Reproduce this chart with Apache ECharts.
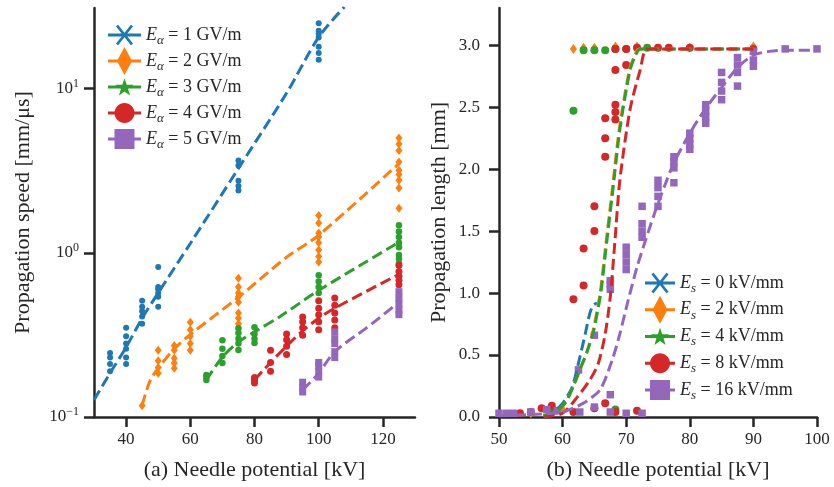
<!DOCTYPE html>
<html>
<head>
<meta charset="utf-8">
<script src="https://cdn.jsdelivr.net/npm/echarts@6/dist/echarts.min.js"></script>
<style>
  html, body { margin: 0; padding: 0; background: #fff; }
  #chart { width: 834px; height: 487px; }
</style>
</head>
<body>
<div id="chart"></div>
<script>
// ---------- (a) propagation speed [mm/us] for fields E_alpha = 1..5 GV/m ----------
const speedFields = [1, 2, 3, 4, 5];

const speedVolt1 = [35, 40, 45, 50, 75, 100];
const speedMeas1 = [
  [0.19, 0.21, 0.23, 0.245],
  [0.21, 0.23, 0.26, 0.28, 0.31, 0.35],
  [0.37, 0.41, 0.44, 0.47, 0.51],
  [0.47, 0.54, 0.57, 0.60, 0.62, 0.82],
  [2.4, 2.55, 2.75, 3.4, 3.65],
  [15, 16.5, 18, 20.5, 21.5, 22.5, 25]
];
const speedFitX1 = [30, 35, 40, 45, 50, 60, 75, 90, 100, 108];
const speedFitY1 = [0.127, 0.185, 0.266, 0.40, 0.57, 1.14, 3.27, 9.4, 20.6, 31.5];

const speedVolt2 = [45, 50, 55, 60, 75, 100, 125];
const speedMeas2 = [
  [0.117],
  [0.185, 0.20, 0.22, 0.255],
  [0.198, 0.213, 0.228, 0.255, 0.273],
  [0.255, 0.28, 0.31, 0.34, 0.378],
  [0.37, 0.40, 0.43, 0.50, 0.54, 0.57, 0.62, 0.70],
  [0.88, 0.95, 1.04, 1.15, 1.25, 1.32, 1.52, 1.69],
  [1.87, 2.48, 2.77, 3.0, 3.19, 3.58, 4.2, 4.6, 5.0]
];
const speedFitX2 = [45, 47.5, 50, 55, 60, 75, 90, 100, 125];
const speedFitY2 = [0.118, 0.167, 0.198, 0.26, 0.318, 0.536, 0.94, 1.28, 3.5];

const speedVolt3 = [65, 70, 75, 80, 100, 125];
const speedMeas3 = [
  [0.168, 0.175, 0.18],
  [0.213, 0.235, 0.26, 0.293],
  [0.256, 0.28, 0.30, 0.325, 0.347],
  [0.282, 0.30, 0.32, 0.352],
  [0.57, 0.62, 0.67, 0.73],
  [0.86, 0.92, 0.97, 1.08, 1.15, 1.25, 1.35, 1.47]
];
const speedFitX3 = [65, 70, 75, 80, 88, 100, 125];
const speedFitY3 = [0.168, 0.232, 0.286, 0.33, 0.41, 0.59, 1.16];

const speedVolt4 = [80, 85, 90, 95, 100, 105, 125];
const speedMeas4 = [
  [0.161, 0.168, 0.174],
  [0.19, 0.215, 0.255],
  [0.24, 0.27, 0.295, 0.32],
  [0.315, 0.35, 0.38, 0.406],
  [0.34, 0.38, 0.42, 0.46, 0.51],
  [0.35, 0.39, 0.43, 0.48, 0.53],
  [0.64, 0.68, 0.72, 0.77, 0.84]
];
const speedFitX4 = [80, 85, 90, 95, 100, 105, 125];
const speedFitY4 = [0.168, 0.215, 0.27, 0.335, 0.40, 0.46, 0.74];

const speedVolt5 = [95, 100, 105, 125];
const speedMeas5 = [
  [0.142, 0.152, 0.163],
  [0.175, 0.19, 0.205, 0.215],
  [0.23, 0.25, 0.28, 0.30, 0.33],
  [0.42, 0.45, 0.49, 0.53, 0.58]
];
const speedFitX5 = [95, 100, 105, 115, 125];
const speedFitY5 = [0.146, 0.185, 0.25, 0.35, 0.50];

// ---------- (b) propagation length [mm] for fields E_s = 0..16 kV/mm ----------
const lengthFields = [0, 2, 4, 8, 16];

const lengthPoints0 = [];
const lengthPoints2 = [
  [55, 0.03], [58.3, 0.05], [60, 0.06], [61.7, 2.97], [63.3, 2.98], [65, 2.98],
  [68.3, 2.99], [71.7, 2.99], [80, 2.98], [90, 2.99]
];
const lengthPoints4 = [
  [58.3, 0.04], [61.7, 2.47], [63.3, 2.96], [65, 2.96], [66.7, 2.96], [68.3, 2.97],
  [70, 2.97], [73.3, 2.98], [68.3, 0.06]
];
const lengthPoints8 = [
  [53.3, 0.03], [55, 0.04], [56.7, 0.07], [58.3, 0.09], [61.7, 0.04], [61.7, 0.95],
  [63.3, 1.06], [63.3, 1.36], [65, 0.07], [65, 1.50], [65, 1.70], [66.7, 0.11],
  [66.7, 2.10], [66.7, 2.25], [66.7, 2.41], [68.3, 0.04], [68.3, 2.40], [68.3, 2.46],
  [68.3, 2.52], [68.3, 2.80], [68.3, 2.97], [70, 2.84], [70, 2.97], [71.7, 0.05],
  [71.7, 2.98], [75, 2.98], [76.7, 2.98], [80, 2.98], [90, 2.97]
];
const lengthPoints16 = [
  [50, 0.03], [51.2, 0.03], [52.3, 0.03], [55, 0.04], [57.5, 0.06], [59.2, 0.05],
  [62.7, 0.04], [65, 0.08], [67.5, 0.04], [67.5, 0.18], [70, 0.03], [72.5, 0.03],
  [62.5, 0.38], [65, 0.66], [67.5, 1.03], [67.5, 1.07], [67.5, 1.10],
  [70, 1.19], [70, 1.25], [70, 1.31], [70, 1.37],
  [72.5, 1.45], [72.5, 1.50], [72.5, 1.56], [72.5, 1.70],
  [75, 1.70], [75, 1.78], [75, 1.85], [75, 1.91],
  [77.5, 1.89], [77.5, 2.01], [77.5, 2.06], [77.5, 2.10],
  [80, 2.16], [80, 2.20], [80, 2.25], [80, 2.29],
  [82.5, 2.37], [82.5, 2.42], [82.5, 2.47], [82.5, 2.52],
  [85, 2.56], [85, 2.63], [85, 2.70], [85, 2.78],
  [87.5, 2.67], [87.5, 2.78], [87.5, 2.84], [87.5, 2.90],
  [90, 2.83], [90, 2.88], [90, 2.95], [95, 2.97], [100, 2.97]
];

const lengthFitX0 = [57, 58.5, 60, 61.5, 62.7, 63.6, 64.3, 64.8, 65.4];
const lengthFitY0 = [0.01, 0.04, 0.11, 0.24, 0.48, 0.68, 0.84, 0.90, 0.92];
const lengthFitX2 = [57, 59, 60.5, 61.7, 62.7, 63.8, 64.8, 65.9, 66.7, 67.8, 68.9, 70.5, 71.3, 72, 90];
const lengthFitY2 = [0.01, 0.04, 0.12, 0.25, 0.38, 0.52, 0.70, 1.0, 1.35, 1.83, 2.32, 2.80, 2.91, 2.97, 2.97];
const lengthFitX4 = [57, 59, 60.5, 61.7, 62.7, 63.8, 64.9, 66, 66.8, 67.9, 69, 70.6, 71.4, 72.2, 90];
const lengthFitY4 = [0.01, 0.04, 0.12, 0.25, 0.38, 0.52, 0.70, 1.0, 1.35, 1.83, 2.32, 2.80, 2.91, 2.97, 2.97];
const lengthFitX8 = [57, 60, 62.3, 64.3, 65.6, 66.7, 67.5, 68.2, 69, 70.6, 72.2, 73.4, 90];
const lengthFitY8 = [0.0, 0.03, 0.16, 0.30, 0.43, 0.67, 0.97, 1.40, 1.91, 2.48, 2.80, 2.97, 2.97];
const lengthFitX16 = [50, 55, 60, 63.2, 65.9, 67.8, 69, 70.3, 71.7, 73, 74.5, 76, 77.5, 80, 82.5, 85, 87.5, 90, 92.5, 95, 100];
const lengthFitY16 = [0.01, 0.02, 0.04, 0.11, 0.22, 0.46, 0.67, 0.94, 1.21, 1.42, 1.65, 1.86, 2.05, 2.29, 2.49, 2.66, 2.82, 2.92, 2.95, 2.96, 2.96];

// axis ticks
const speedTicksX = [40, 60, 80, 100, 120];
const speedTicksY = [0.1, 1, 10];
const lengthTicksX = [50, 60, 70, 80, 90, 100];
const lengthTicksY = [0, 0.5, 1.0, 1.5, 2.0, 2.5, 3.0];

// ---------- styling ----------
const palette = ['#1f77b4', '#ff7f0e', '#2ca02c', '#d62728', '#9467bd'];
const serif = "'Liberation Serif', 'DejaVu Serif', serif";
const ink = '#262626';

function pairs(volts, groups) {
  const out = [];
  volts.forEach((v, i) => groups[i].forEach(y => out.push([v, y])));
  return out;
}
function zip(xs, ys) { return xs.map((x, i) => [x, ys[i]]); }

// legend glyphs: a short line with the series marker on top
function poly(pts) {
  let a = 0;
  for (let i = 0; i < pts.length; i++) {
    const p = pts[i], q = pts[(i + 1) % pts.length];
    a += p[0] * q[1] - q[0] * p[1];
  }
  if (a < 0) pts = pts.slice().reverse();
  return 'M' + pts.map(p => p[0].toFixed(2) + ' ' + p[1].toFixed(2)).join(' L') + ' Z';
}
function seg(p1, p2, w) {
  const dx = p2[0] - p1[0], dy = p2[1] - p1[1], l = Math.hypot(dx, dy);
  const nx = -dy / l * w / 2, ny = dx / l * w / 2;
  return poly([[p1[0] + nx, p1[1] + ny], [p2[0] + nx, p2[1] + ny], [p2[0] - nx, p2[1] - ny], [p1[0] - nx, p1[1] - ny]]);
}
function iconPath(kind, w) {
  const h = 28, cy = h / 2, cx = w / 2;
  const parts = [poly([[0, cy - 1.6], [w, cy - 1.6], [w, cy + 1.6], [0, cy + 1.6]])];
  if (kind === 'x') {
    parts.push(seg([cx - 7.5, cy - 9.5], [cx + 7.5, cy + 9.5], 2.8));
    parts.push(seg([cx - 7.5, cy + 9.5], [cx + 7.5, cy - 9.5], 2.8));
  } else if (kind === 'diamond') {
    parts.push(poly([[cx, 0], [cx + 7.5, cy], [cx, h], [cx - 7.5, cy]]));
  } else if (kind === 'star') {
    const pts = [];
    for (let k = 0; k < 10; k++) {
      const r = k % 2 === 0 ? 9.5 : 3.8;
      const ang = -Math.PI / 2 + k * Math.PI / 5;
      pts.push([cx + r * Math.cos(ang), cy + 0.8 + r * Math.sin(ang)]);
    }
    parts.push(poly(pts));
  } else if (kind === 'circle') {
    const pts = [];
    for (let k = 0; k < 32; k++) {
      const ang = k * Math.PI / 16;
      pts.push([cx + 10 * Math.cos(ang), cy + 10 * Math.sin(ang)]);
    }
    parts.push(poly(pts));
  } else if (kind === 'square') {
    parts.push(poly([[cx - 10, cy - 10], [cx + 10, cy - 10], [cx + 10, cy + 10], [cx - 10, cy + 10]]));
  }
  // zero-area anchors so every glyph shares the same box
  parts.push(`M${cx} 0 L${cx} 0 Z`, `M${cx} ${h} L${cx} ${h} Z`);
  return 'path://' + parts.join(' ');
}
const legendMarkers = ['x', 'diamond', 'star', 'circle', 'square'];

const speedNames = speedFields.map(v => 'Ea' + v);
const lengthNames = lengthFields.map(v => 'Es' + v);
const labelFor = {};
speedFields.forEach((v, i) => { labelFor[speedNames[i]] = `{e|E}{s|α}{t| = ${v} GV/m}`; });
lengthFields.forEach((v, i) => { labelFor[lengthNames[i]] = `{e|E}{s|s}{t| = ${v} kV/mm}`; });

const legendText = {
  fontFamily: serif, fontSize: 18, color: ink,
  rich: {
    e: { fontFamily: serif, fontStyle: 'italic', fontSize: 18, lineHeight: 24, color: ink },
    s: { fontFamily: serif, fontStyle: 'italic', fontSize: 13, lineHeight: 15, verticalAlign: 'bottom', color: ink },
    t: { fontFamily: serif, fontSize: 18, lineHeight: 24, color: ink }
  }
};

const speedMeas = [
  pairs(speedVolt1, speedMeas1), pairs(speedVolt2, speedMeas2), pairs(speedVolt3, speedMeas3),
  pairs(speedVolt4, speedMeas4), pairs(speedVolt5, speedMeas5)
];
const speedFits = [
  zip(speedFitX1, speedFitY1), zip(speedFitX2, speedFitY2), zip(speedFitX3, speedFitY3),
  zip(speedFitX4, speedFitY4), zip(speedFitX5, speedFitY5)
];
const lengthMeas = [lengthPoints0, lengthPoints2, lengthPoints4, lengthPoints8, lengthPoints16];
const lengthFits = [
  zip(lengthFitX0, lengthFitY0), zip(lengthFitX2, lengthFitY2), zip(lengthFitX4, lengthFitY4),
  zip(lengthFitX8, lengthFitY8), zip(lengthFitX16, lengthFitY16)
];

const dotSymbol = ['circle', 'diamond', 'circle', 'circle', 'rect'];
const dotSizeA = [6, [7, 9], 6.5, 7, 7];
const dotSizeB = [7, [7, 10], 8, 8, 7.5];

const series = [];
for (let k = 0; k < 5; k++) {
  series.push({
    name: speedNames[k], type: 'scatter', xAxisIndex: 0, yAxisIndex: 0,
    data: speedMeas[k], symbol: dotSymbol[k], symbolSize: dotSizeA[k],
    itemStyle: { color: palette[k], opacity: 1 }, z: 2, silent: true
  });
  series.push({
    name: 'speed fit ' + k, type: 'line', xAxisIndex: 0, yAxisIndex: 0,
    data: speedFits[k], showSymbol: false, smooth: 0.3,
    lineStyle: { color: palette[k], width: 3, type: [11, 5] }, z: 3, silent: true
  });
}
for (let k = 0; k < 5; k++) {
  series.push({
    name: lengthNames[k], type: 'scatter', xAxisIndex: 1, yAxisIndex: 1,
    data: lengthMeas[k], symbol: dotSymbol[k], symbolSize: dotSizeB[k],
    itemStyle: { color: palette[k], opacity: 1 }, z: 2, silent: true
  });
  series.push({
    name: 'length fit ' + k, type: 'line', xAxisIndex: 1, yAxisIndex: 1,
    data: lengthFits[k], showSymbol: false, smooth: 0.25,
    lineStyle: { color: palette[k], width: 3, type: [11, 5] }, z: 3, silent: true
  });
}

const axisLine = { show: true, lineStyle: { color: ink, width: 2.5 } };
const axisTick = (vals) => ({ show: true, length: 10, inside: false, lineStyle: { color: ink, width: 2.5 }, customValues: vals });
const tickText = { fontFamily: serif, fontSize: 17, color: ink };
const nameText = { fontFamily: serif, fontSize: 22, color: ink };

const option = {
  animation: false,
  backgroundColor: '#fff',
  grid: [
    { left: 94, right: 419, top: 8, bottom: 70, outerBoundsMode: 'none', containLabel: false },
    { left: 499, right: 17, top: 8, bottom: 70, outerBoundsMode: 'none', containLabel: false }
  ],
  xAxis: [
    {
      gridIndex: 0, type: 'value', min: 30, max: 130,
      axisLine, axisTick: axisTick(speedTicksX), splitLine: { show: false },
      axisLabel: { ...tickText, margin: 14, customValues: speedTicksX, formatter: v => String(v) },
      name: '(a) Needle potential [kV]', nameLocation: 'middle', nameGap: 42,
      nameTextStyle: nameText, nameMoveOverlap: false
    },
    {
      gridIndex: 1, type: 'value', min: 50, max: 100,
      axisLine, axisTick: axisTick(lengthTicksX), splitLine: { show: false },
      axisLabel: { ...tickText, margin: 14, customValues: lengthTicksX, formatter: v => String(v) },
      name: '(b) Needle potential [kV]', nameLocation: 'middle', nameGap: 42,
      nameTextStyle: nameText, nameMoveOverlap: false
    }
  ],
  yAxis: [
    {
      gridIndex: 0, type: 'log', logBase: 10, min: 0.1, max: 31,
      axisLine, axisTick: axisTick(speedTicksY), splitLine: { show: false }, minorTick: { show: false },
      axisLabel: {
        ...tickText, margin: 15, customValues: speedTicksY,
        formatter: v => {
          const e = Math.round(Math.log10(v));
          return '{b|10}{p|' + (e < 0 ? '\u2212' + (-e) : e) + '}';
        },
        rich: {
          b: { fontFamily: serif, fontSize: 17, lineHeight: 22, color: ink },
          p: { fontFamily: serif, fontSize: 12, lineHeight: 8, verticalAlign: 'top', color: ink }
        }
      },
      name: 'Propagation speed [mm/\u03bcs]', nameLocation: 'middle', nameGap: 60,
      nameTextStyle: nameText, nameMoveOverlap: false
    },
    {
      gridIndex: 1, type: 'value', min: 0, max: 3.3,
      axisLine, axisTick: axisTick(lengthTicksY), splitLine: { show: false },
      axisLabel: { ...tickText, margin: 19, customValues: lengthTicksY, formatter: v => v.toFixed(1) },
      name: 'Propagation length [mm]', nameLocation: 'middle', nameGap: 49,
      nameTextStyle: nameText, nameMoveOverlap: false
    }
  ],
  legend: [
    {
      orient: 'vertical', left: 108, top: 21, padding: 0, itemGap: -2,
      itemWidth: 33, itemHeight: 28, selectedMode: false,
      itemStyle: { opacity: 1, borderWidth: 0 },
      data: speedNames.map((n, i) => ({ name: n, icon: iconPath(legendMarkers[i], 33) })),
      formatter: n => labelFor[n], textStyle: legendText
    },
    {
      orient: 'vertical', left: 645, top: 269, padding: 0, itemGap: -1.25,
      itemWidth: 30, itemHeight: 28, selectedMode: false,
      itemStyle: { opacity: 1, borderWidth: 0 },
      data: lengthNames.map((n, i) => ({ name: n, icon: iconPath(legendMarkers[i], 30) })),
      formatter: n => labelFor[n], textStyle: legendText
    }
  ],
  series
};

const chart = echarts.init(document.getElementById('chart'), null, { renderer: 'canvas' });
chart.setOption(option);
</script>
</body>
</html>
